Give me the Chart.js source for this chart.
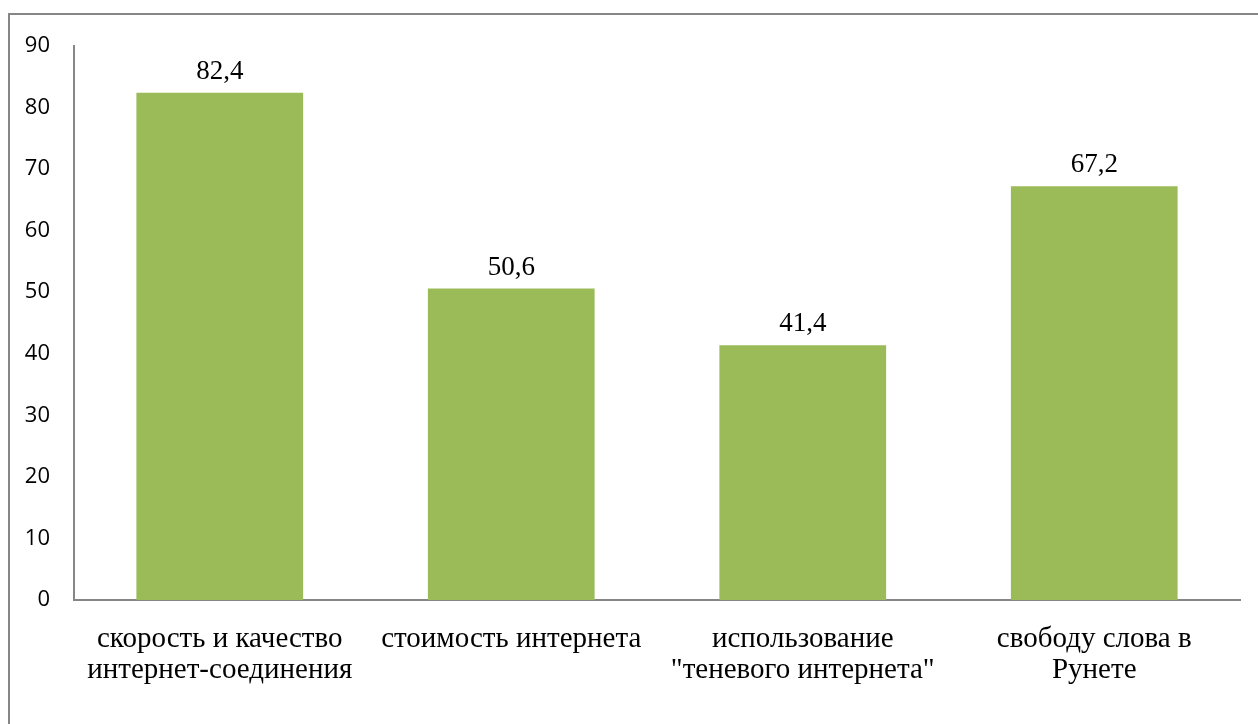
<!DOCTYPE html>
<html>
<head>
<meta charset="utf-8">
<script src="https://cdn.jsdelivr.net/npm/chart.js@4"></script>
<style>
html,body{margin:0;padding:0;background:#fff;}
#wrap{position:relative;width:1258px;height:724px;}
</style>
</head>
<body>
<div id="wrap"><canvas id="c" width="1258" height="724"></canvas></div>
<script>
const categories = [
  ["скорость и качество", "интернет-соединения"],
  ["стоимость интернета"],
  ["использование", "\"теневого интернета\""],
  ["свободу слова в", "Рунете"]
];
const values = [82.4, 50.6, 41.4, 67.2];
const valueLabels = ["82,4", "50,6", "41,4", "67,2"];
const yTicks = [0, 10, 20, 30, 40, 50, 60, 70, 80, 90];

const frame = {
  id: 'frame',
  beforeDraw(chart) {
    const ctx = chart.ctx;
    ctx.save();
    ctx.fillStyle = '#fff';
    ctx.fillRect(0, 0, chart.width, chart.height);
    ctx.strokeStyle = '#868686';
    ctx.lineWidth = 2;
    ctx.strokeRect(9, 14, 1300, 800);
    ctx.restore();
  }
};
const dataLabels = {
  id: 'dataLabels',
  afterDatasetsDraw(chart) {
    const ctx = chart.ctx;
    const meta = chart.getDatasetMeta(0);
    ctx.save();
    ctx.fillStyle = '#000';
    ctx.font = '27px "Liberation Serif", "Times New Roman", serif';
    ctx.textAlign = 'center';
    ctx.textBaseline = 'middle';
    meta.data.forEach((bar, i) => {
      ctx.fillText(valueLabels[i], bar.x, bar.y - 21);
    });
    ctx.restore();
  }
};

new Chart(document.getElementById('c'), {
  type: 'bar',
  data: {
    labels: categories,
    datasets: [{
      data: values,
      backgroundColor: '#9BBB59',
      borderWidth: 0,
      barPercentage: 0.572,
      categoryPercentage: 1.0
    }]
  },
  options: {
    responsive: false,
    animation: false,
    layout: { padding: { left: 0, right: 18, top: 46, bottom: 0 } },
    plugins: { legend: { display: false }, tooltip: { enabled: false } },
    scales: {
      y: {
        min: 0, max: 90,
        afterFit(scale) { scale.width = 74; },
        afterBuildTicks(scale) { scale.ticks = yTicks.map(v => ({ value: v })); },
        grid: { display: false, drawTicks: false },
        border: { display: true, color: '#868686', width: 2 },
        ticks: {
          padding: 24,
          color: '#000',
          font: { family: '"Open Sans", "Liberation Sans", sans-serif', size: 22 }
        }
      },
      x: {
        afterFit(scale) { scale.height = 124; },
        grid: { display: false, drawTicks: false },
        border: { display: true, color: '#868686', width: 2 },
        ticks: {
          padding: 24,
          color: '#000',
          maxRotation: 0,
          autoSkip: false,
          font: { family: '"Liberation Serif", "Times New Roman", serif', size: 29, lineHeight: 1.07 }
        }
      }
    }
  },
  plugins: [frame, dataLabels]
});
</script>
</body>
</html>
